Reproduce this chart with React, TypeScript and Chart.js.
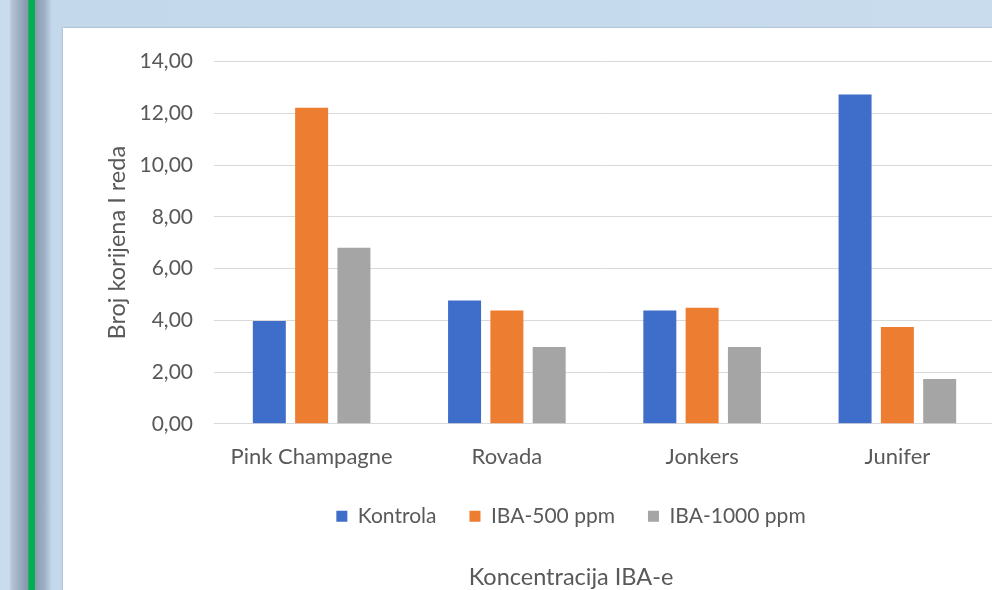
import React, { useEffect, useRef } from "react";
import { Chart, registerables } from "chart.js";

Chart.register(...registerables);

// Cultivars on the category axis
const categories = ["Pink Champagne", "Rovada", "Jonkers", "Junifer"];

// Mean number of first-order roots per treatment
const kontrola = [3.97, 4.77, 4.38, 12.73];
const iba500 = [12.22, 4.38, 4.49, 3.74];
const iba1000 = [6.8, 2.97, 2.97, 1.73];

const seriesNames = ["Kontrola", "IBA-500 ppm", "IBA-1000 ppm"];
const seriesColors = ["#3f6dca", "#ed7d31", "#a5a5a5"];

const yTitle = "Broj korijena I reda";
const xTitle = "Koncentracija IBA-e";
const yMin = 0;
const yMax = 14;
const yStep = 2;

const TEXT = "#595959";
const GRID = "#d9d9d9";
const FONT = "Lato, 'Open Sans', sans-serif";

export default function App() {
  const canvasRef = useRef<HTMLCanvasElement | null>(null);

  useEffect(() => {
    const canvas = canvasRef.current;
    if (!canvas) return;
    Chart.defaults.font.family = FONT;
    Chart.defaults.color = TEXT;

    const values = [kontrola, iba500, iba1000];
    const chart = new Chart(canvas, {
      type: "bar",
      data: {
        labels: categories,
        datasets: values.map((data, i) => ({
          label: seriesNames[i],
          data,
          backgroundColor: seriesColors[i],
          borderWidth: 0,
          categoryPercentage: 0.65,
          barPercentage: 0.78,
          yAxisID: "y",
        })),
      },
      options: {
        responsive: false,
        animation: false,
        devicePixelRatio: 1,
        layout: { padding: { left: 30, right: 14, top: 29, bottom: 26 } },
        plugins: {
          tooltip: { enabled: false },
          legend: {
            position: "bottom",
            labels: {
              boxWidth: 11,
              boxHeight: 11,
              padding: 33,
              color: TEXT,
              font: { size: 21, family: FONT },
            },
          },
          title: {
            display: true,
            position: "bottom",
            text: xTitle,
            color: TEXT,
            font: { size: 23.5, weight: "normal", family: FONT },
            padding: { top: 27, bottom: 10 },
          },
        },
        scales: {
          x: {
            grid: { display: false, drawTicks: false },
            border: { display: true, color: GRID, width: 1 },
            ticks: { color: TEXT, padding: 20, font: { size: 22, family: FONT } },
            afterFit: (axis: any) => {
              axis.height = 49;
            },
          },
          y: {
            min: yMin,
            max: yMax,
            grid: { color: GRID, lineWidth: 1, drawTicks: false },
            border: { display: false },
            ticks: {
              stepSize: yStep,
              padding: 21,
              color: TEXT,
              font: { size: 21, family: FONT },
              callback: (v: any) => Number(v).toFixed(2).replace(".", ","),
            },
            title: {
              display: true,
              text: yTitle,
              color: TEXT,
              font: { size: 23.5, family: FONT },
              padding: { top: 10, bottom: 0 },
            },
            afterFit: (axis: any) => {
              axis.width = 121;
            },
          },
          yR: {
            type: "linear",
            position: "right",
            display: true,
            grid: { display: false, drawTicks: false },
            border: { display: false },
            ticks: { display: false },
            afterFit: (axis: any) => {
              axis.width = 54;
            },
          },
        },
      },
    });
    return () => chart.destroy();
  }, []);

  return (
    <div
      style={{
        position: "fixed",
        left: 0,
        top: 0,
        width: 992,
        height: 590,
        overflow: "hidden",
        background:
          "linear-gradient(to right, #c8dcee 0px, #c8dcee 9px, #b3c3d3 12px, #8396ab 28px, #00b04f 29px, #00b04f 35px, #879ab0 35px, #9fb1c5 45px, #c4d8ec 52px, #c8dcee 100%)",
      }}
    >
      <div
        style={{
          position: "absolute",
          left: 63,
          top: 28,
          width: 1000,
          height: 600,
          background: "#ffffff",
          boxShadow: "0 0 2px rgba(90,90,90,0.45)",
        }}
      >
        <canvas ref={canvasRef} width={1000} height={600} style={{ display: "block" }} />
      </div>
    </div>
  );
}
